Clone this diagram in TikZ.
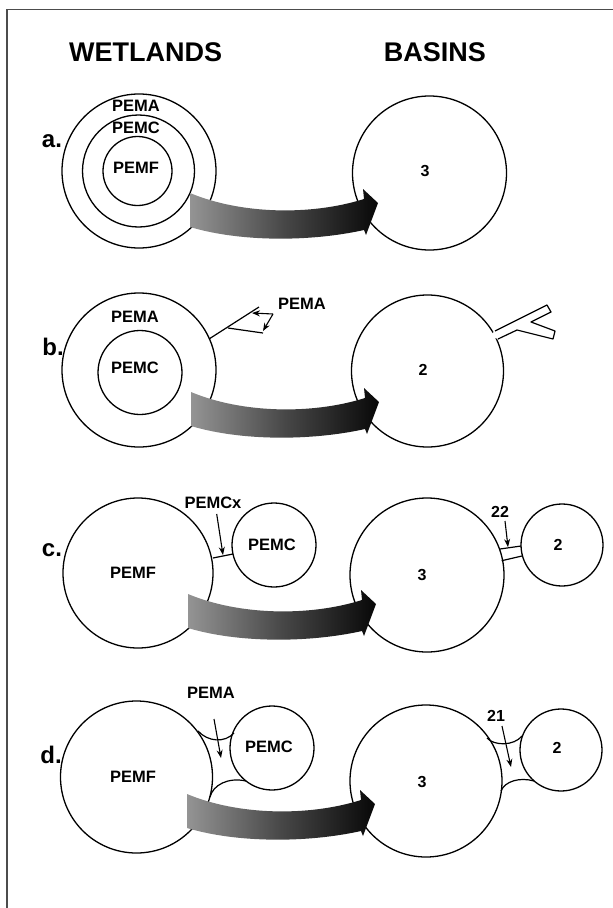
\documentclass[tikz,border=0pt]{standalone}
\usepackage{fontspec}
\setmainfont{Liberation Sans}
\usetikzlibrary{arrows.meta}
\begin{document}
\begin{tikzpicture}[x=1pt,y=-1pt,
  ring/.style={draw=black, line width=1.3pt, circle, inner sep=0pt, minimum size=#1},
  lab/.style={font=\bfseries\fontsize{16.5}{18}\selectfont, inner sep=0pt},
  num/.style={font=\bfseries\fontsize{16}{18}\selectfont, inner sep=0pt},
  titletext/.style={font=\bfseries\fontsize{27}{30}\selectfont, inner sep=0pt},
  rowlab/.style={font=\bfseries\fontsize{24}{26}\selectfont, inner sep=0pt},
  pointer/.style={line width=1.1pt, -{Stealth[length=8pt,width=6pt]}},
  chan/.style={line width=1.2pt, line join=round},
  bigarrow/.style={left color=black!42, right color=black!97, middle color=black!72},
]
\fill[white] (0,0) rectangle (613,908);
\useasboundingbox (0,0) rectangle (613,908);
\draw[black!70, line width=1.4pt] (7,908) -- (7,9.5) -- (613,9.5);

% titles
\node[titletext] (tw) at (145.6,52) {WETLANDS};
\node[titletext] (tb) at (435,52) {BASINS};

% ---------- row a ----------
\node[ring=154pt] (aA) at (139,171) {};
\node[ring=112pt] (aC) at (138.5,171) {};
\node[ring=69pt] (aF) at (137.5,171) {};
\node[lab] (aAl) at (136,106) {PEMA};
\node[lab] (aCl) at (136,128) {PEMC};
\node[lab] (aFl) at (136,168) {PEMF};
\node[rowlab] (la) at (52,141) {a.};
\node[ring=154pt] (aB) at (429.5,173) {};
\node[num] (aBl) at (425,171) {3};

% ---------- row b ----------
\node[ring=154pt] (bA) at (139,370) {};
\node[ring=84pt] (bC) at (140,372.5) {};
\node[lab] (bAl) at (135,317) {PEMA};
\node[lab] (bCl) at (135,368) {PEMC};
\node[rowlab] (lb) at (53,347) {b.};
\coordinate (bch0) at (209,339);
\coordinate (bch1) at (259,307);
\coordinate (bch2) at (228,328);
\coordinate (bch3) at (263,333);
\draw[chan] (bch0) -- (bch1);
\draw[chan] (bch2) -- (bch3);
\node[lab] (bPl) at (302,304) {PEMA};
\coordinate (bo) at (273,314);
\coordinate (bt1) at (252,313);
\coordinate (bt2) at (263,331);
\draw[pointer] (bo) -- (bt1);
\draw[pointer] (bo) -- (bt2);
\node[ring=152pt] (bB) at (427.5,371) {};
\node[num] (bBl) at (423,370) {2};
\fill[white] (495,331) -- (547,305) -- (551,312) -- (531,322) -- (555,331) -- (553,339) -- (517,330) -- (498,339) -- (489,336) -- cycle;
\draw[chan] (495,331) -- (547,305) -- (551,312) -- (531,322) -- (555,331) -- (553,339) -- (517,330) -- (498,339);

% ---------- row c ----------
\node[ring=150pt] (cF) at (138,573) {};
\node[ring=84pt] (cC) at (274,545) {};
\node[lab] (cFl) at (133,573) {PEMF};
\node[lab] (cCl) at (272,545) {PEMC};
\node[rowlab] (lc) at (52,550) {c.};
\coordinate (cx0) at (213,558);
\coordinate (cx1) at (233,554);
\draw[chan] (cx0) -- (cx1);
\node[lab] (cxl) at (213,503) {PEMCx};
\coordinate (cxa) at (216.7,514);
\coordinate (cxb) at (223,555);
\draw[pointer] (cxa) -- (cxb);
\node[ring=154pt] (cB) at (427,575) {};
\node[ring=82pt] (cS) at (562,545) {};
\node[num] (cBl) at (422,575) {3};
\node[num] (cSl) at (558,545) {2};
\coordinate (cc0) at (500,549);
\coordinate (cc1) at (521,546);
\coordinate (cc2) at (501.7,560.7);
\coordinate (cc3) at (522,556);
\draw[chan] (cc0) -- (cc1);
\draw[chan] (cc2) -- (cc3);
\node[num] (c22) at (500,512) {22};
\coordinate (c22a) at (505,521);
\coordinate (c22b) at (508,547);
\draw[pointer] (c22a) -- (c22b);

% ---------- row d ----------
\node[ring=152pt] (dF) at (136.5,777) {};
\node[ring=84pt] (dC) at (272,748) {};
\node[lab] (dFl) at (133,777) {PEMF};
\node[lab] (dCl) at (269,747) {PEMC};
\node[rowlab] (ld) at (51,755) {d.};
\node[lab] (dAl) at (211,693) {PEMA};
\coordinate (df0) at (198,731);
\coordinate (df1) at (234,733);
\coordinate (df2) at (210,797);
\coordinate (df3) at (246,781);
\draw[chan] (df0) .. controls (208,742) and (225,743) .. (df1);
\draw[chan] (df2) .. controls (213,785) and (228,777) .. (df3);
\coordinate (dpa) at (214,719);
\coordinate (dpb) at (221,758);
\draw[pointer] (dpa) -- (dpb);
\node[ring=152pt] (dB) at (426,781) {};
\node[ring=82pt] (dS) at (561,750) {};
\node[num] (dBl) at (422,782) {3};
\node[num] (dSl) at (557,748) {2};
\coordinate (dg0) at (487,738);
\coordinate (dg1) at (522,736);
\coordinate (dg2) at (501,791);
\coordinate (dg3) at (534,781);
\draw[chan] (dg0) .. controls (494,746) and (514,746) .. (dg1);
\draw[chan] (dg2) .. controls (505,781) and (520,777) .. (dg3);
\node[num] (d21) at (496,716) {21};
\coordinate (d21a) at (502,726);
\coordinate (d21b) at (511,767);
\draw[pointer] (d21a) -- (d21b);

% ---------- big shaded arrows ----------
\foreach \dx/\dy in {0/0, 1/199, -2/401, -3/601}{
  \begin{scope}[shift={(\dx,\dy)}]
    \shade[bigarrow] (190,193) .. controls (240,214) and (310,216) .. (364,199)
      -- (363,189) -- (378,203) -- (366,235) -- (364,230)
      .. controls (310,242) and (240,242) .. (190,227) -- cycle;
  \end{scope}
}
\end{tikzpicture}
\end{document}
